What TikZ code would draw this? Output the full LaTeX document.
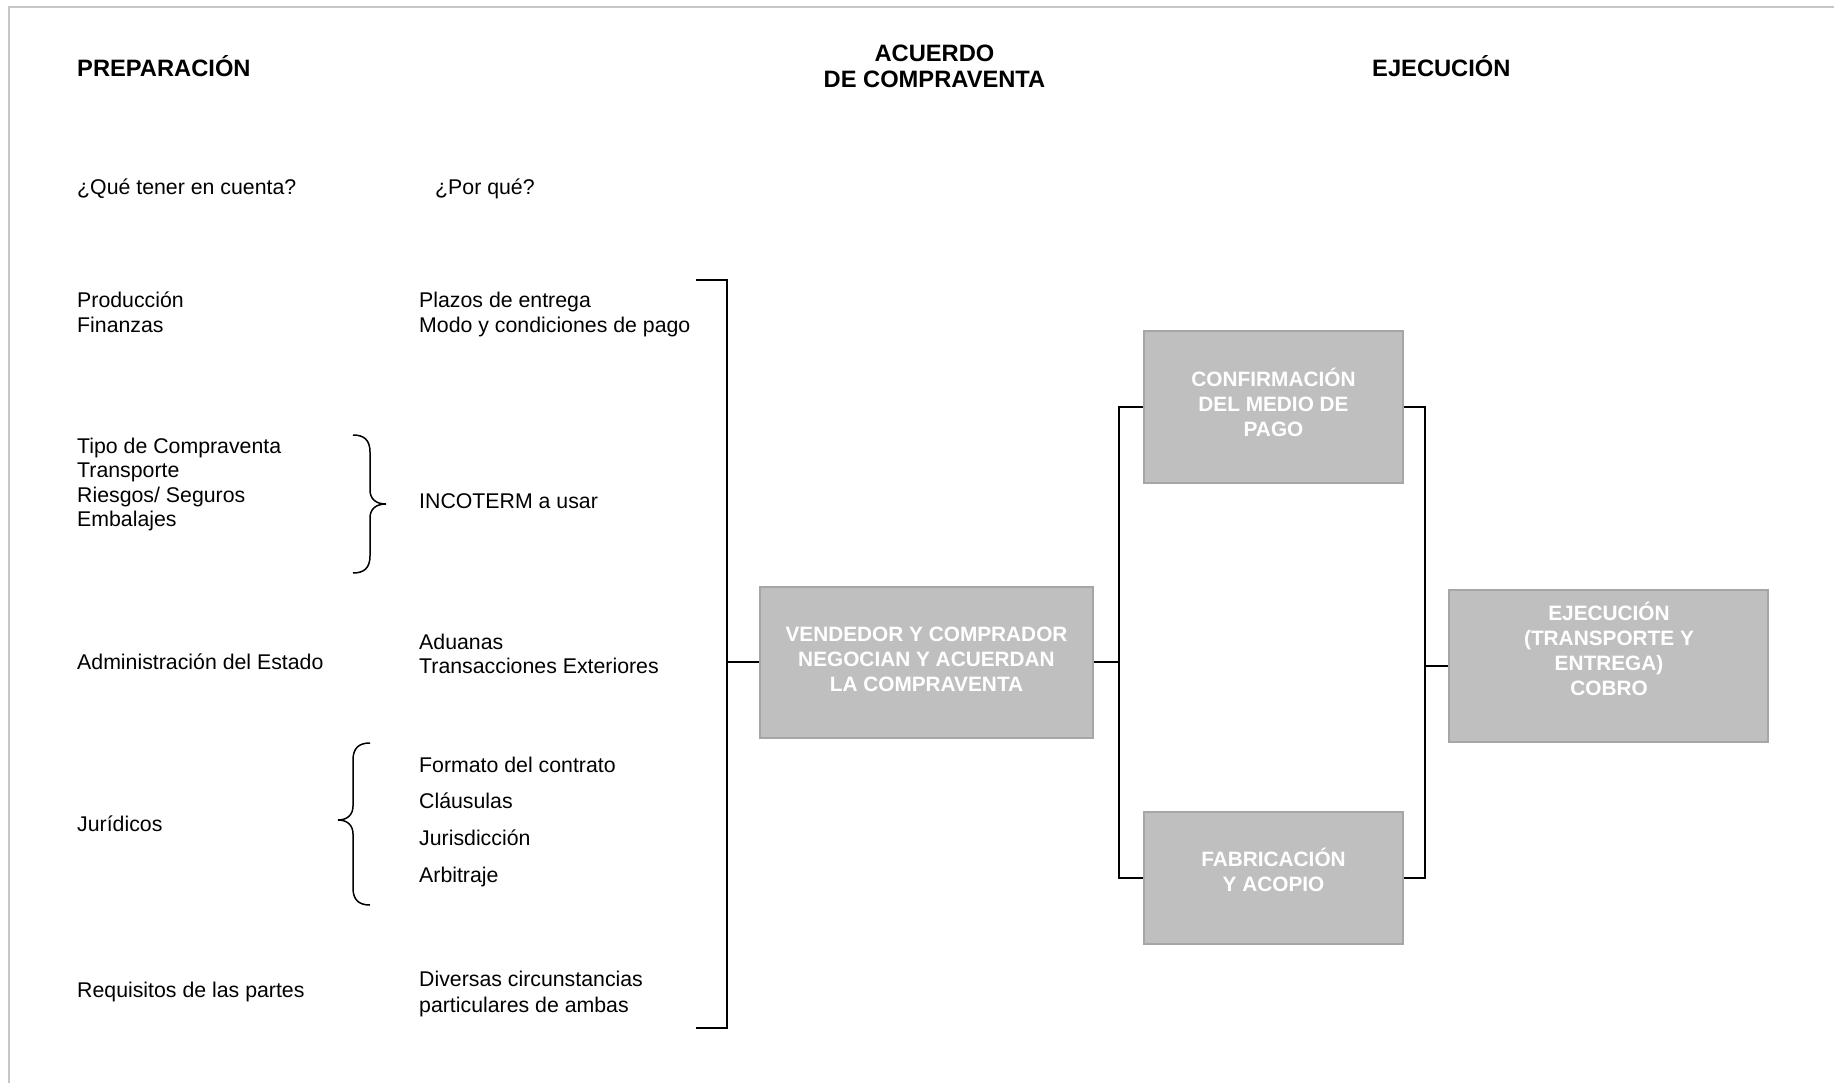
\documentclass[tikz,border=0pt]{standalone}
\usepackage{fontspec}
\setmainfont{Liberation Sans}
\usepackage{array}
\begin{document}
\begin{tikzpicture}[x=1pt,y=-1pt,
  frame/.style={draw=black!22,line width=2pt},
  conn/.style={draw=black,line width=2pt},
  bracestroke/.style={draw=black,line width=1.5pt},
  title/.style={inner sep=0pt,font=\fontsize{23.7}{27}\selectfont\bfseries},
  body/.style={inner sep=0pt,anchor=base west,font=\fontsize{21.3}{24.6}\selectfont},
  stepbox/.style={rectangle,draw=black!35,line width=2pt,fill=black!25,inner sep=0pt},
  boxtext/.style={inner sep=0pt,anchor=base,text=white,font=\fontsize{20.8}{25}\selectfont\bfseries}]
\setlength{\tabcolsep}{0pt}
\useasboundingbox (0,0) rectangle (1834,1083);
% page frame (top and left edges)
\draw[frame] (1834,7) -- (9,7) -- (9,1083);

% column headings
\node[title,anchor=base west] (hPrep) at (77,77) {PREPARACIÓN};
\node[title,anchor=base] (hAcuerdo) at (934.5,62) {\begin{tabular}[t]{@{}c@{}}ACUERDO\\[-1pt]DE COMPRAVENTA\end{tabular}};
\node[title,anchor=base west] (hEjec) at (1372,77) {EJECUCIÓN};

\node[body] (qQue) at (77,195) {¿Qué tener en cuenta?};
\node[body] (qPor) at (435,195) {¿Por qué?};

% preparation items
\node[body] (iProd) at (77,308) {\begin{tabular}[t]{@{}l@{}}Producción\\Finanzas\end{tabular}};
\node[body] (rProd) at (419,308) {\begin{tabular}[t]{@{}l@{}}Plazos de entrega\\Modo y condiciones de pago\end{tabular}};

\node[body] (iTipo) at (77,453) {\begin{tabular}[t]{@{}l@{}}Tipo de Compraventa\\Transporte\\Riesgos/ Seguros\\Embalajes\end{tabular}};
\node[body] (rTipo) at (419,508) {INCOTERM a usar};

\node[body] (iAdm) at (77,669) {Administración del Estado};
\node[body] (rAdm) at (419,649) {\begin{tabular}[t]{@{}l@{}}Aduanas\\Transacciones Exteriores\end{tabular}};

\node[body] (iJur) at (77,831) {Jurídicos};
\node[body,font=\fontsize{21.3}{36.7}\selectfont] (rJur) at (419,772) {\begin{tabular}[t]{@{}l@{}}Formato del contrato\\Cláusulas\\Jurisdicción\\Arbitraje\end{tabular}};

\node[body] (iReq) at (77,997) {Requisitos de las partes};
\node[body,font=\fontsize{21.3}{25.5}\selectfont] (rReq) at (419,986.5) {\begin{tabular}[t]{@{}l@{}}Diversas circunstancias\\particulares de ambas\end{tabular}};

% braces
\draw[bracestroke] (353,435) .. controls (364,435) and (370,440) .. (370,452)
  -- (370,490) .. controls (370,499) and (376,504) .. (386,504)
  .. controls (376,504) and (370,509) .. (370,518)
  -- (370,556) .. controls (370,568) and (364,573) .. (353,573);
\draw[bracestroke] (370,743) .. controls (359,743) and (353,748) .. (353,760)
  -- (353,806) .. controls (353,815) and (347,820) .. (338,820)
  .. controls (347,820) and (353,825) .. (353,834)
  -- (353,888) .. controls (353,900) and (359,905) .. (370,905);

% process boxes
\node[stepbox,minimum width=333pt,minimum height=151pt] (bNeg) at (926.5,662) {};
\node[stepbox,minimum width=259pt,minimum height=151pt] (bConf) at (1273.5,407) {};
\node[stepbox,minimum width=259pt,minimum height=132pt] (bFab) at (1273.5,878) {};
\node[stepbox,minimum width=319pt,minimum height=152pt] (bEjec) at (1608.5,666) {};

\node[boxtext] (tNeg) at (926.5,641) {\begin{tabular}[t]{@{}c@{}}VENDEDOR Y COMPRADOR\\NEGOCIAN Y ACUERDAN\\LA COMPRAVENTA\end{tabular}};
\node[boxtext] (tConf) at (1273.5,386) {\begin{tabular}[t]{@{}c@{}}CONFIRMACIÓN\\DEL MEDIO DE\\PAGO\end{tabular}};
\node[boxtext] (tFab) at (1273.5,866) {\begin{tabular}[t]{@{}c@{}}FABRICACIÓN\\Y ACOPIO\end{tabular}};
\node[boxtext] (tEjec) at (1609,620) {\begin{tabular}[t]{@{}c@{}}EJECUCIÓN\\(TRANSPORTE Y\\ENTREGA)\\COBRO\end{tabular}};

% connectors
\coordinate (bTop) at (696,280);
\coordinate (bTopR) at (727,280);
\coordinate (bBotR) at (727,1028);
\coordinate (bBot) at (696,1028);
\coordinate (splitL) at (1119,0);
\coordinate (splitR) at (1425,0);

\draw[conn] (bTop) -- (bTopR) -- (bBotR) -- (bBot);
\draw[conn] (bNeg.west -| bTopR) -- (bNeg.west);
\draw[conn] (bNeg.east) -- (bNeg.east -| splitL);
\draw[conn] (bConf.west) -- (bConf.west -| splitL) -- (bFab.west -| splitL) -- (bFab.west);
\draw[conn] (bConf.east) -- (bConf.east -| splitR) -- (bFab.east -| splitR) -- (bFab.east);
\draw[conn] (bEjec.west -| splitR) -- (bEjec.west);
\end{tikzpicture}
\end{document}
